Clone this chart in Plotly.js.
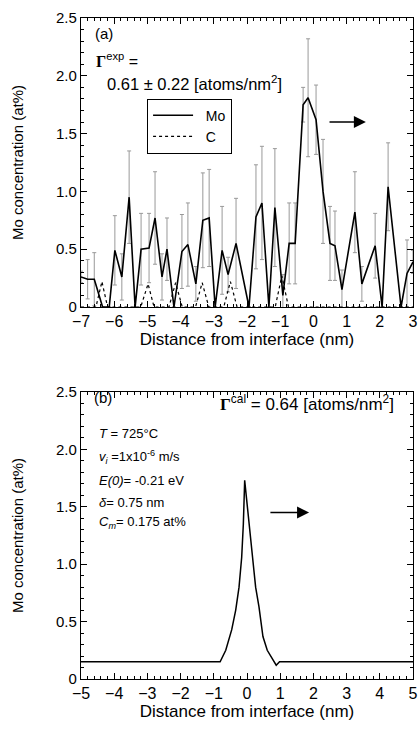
<!DOCTYPE html>
<html><head><meta charset="utf-8">
<script src="https://cdn.plot.ly/plotly-3.0.1.min.js"></script>
<style>html,body{margin:0;padding:0;background:#fff;}#chart{width:419px;height:729px;}</style>
</head><body><div id="chart"></div>
<script>
// Panel (a): measured Mo profile
const moX = [-7.0,-6.8,-6.6,-6.35,-6.15,-5.98,-5.77,-5.55,-5.37,-5.19,-4.95,-4.77,-4.56,-4.41,-4.2,-3.96,-3.78,-3.54,-3.33,-3.14,-2.96,-2.75,-2.57,-2.33,-1.94,-1.73,-1.55,-1.34,-1.16,-0.92,-0.73,-0.55,-0.31,-0.16,0.08,0.29,0.5,0.65,0.86,1.25,1.46,1.86,2.07,2.25,2.64,2.82,3.0];
const moY = [0.26,0.24,0.24,0.0,0.0,0.49,0.26,0.95,0.0,0.5,0.51,0.77,0.26,0.5,0.0,0.48,0.54,0.2,0.75,0.77,0.0,0.49,0.28,0.55,0.0,0.78,0.9,0.0,0.86,0.1,0.55,0.55,1.75,1.81,1.62,1.0,0.55,0.53,0.15,0.82,0.2,0.53,0.0,1.04,0.0,0.29,0.39];
const moErr = [0.05,0.17,0.23,0,0,0.3,0.2,0.4,0,0.31,0.3,0.4,0.2,0.27,0,0.32,0.36,0.15,0.41,0.42,0,0.38,0.15,0.39,0,0.45,0.49,0,0.51,0.18,0.35,0.35,0.15,0.51,0.3,0.45,0.32,0.3,0.17,0.35,0.15,0.28,0,0.38,0,0.29,0.1];
// Panel (a): C profile
const cX = [-7.0,-6.55,-6.37,-6.2,-5.2,-4.98,-4.8,-4.35,-4.15,-3.95,-3.55,-3.35,-3.15,-2.7,-2.5,-2.3,-1.15,-0.95,-0.75,3.0];
const cY = [0,0,0.22,0,0,0.2,0,0,0.21,0,0,0.21,0,0,0.22,0,0,0.27,0,0];
// Panel (b): calculated profile
const calX = [-5,-0.81,-0.64,-0.46,-0.34,-0.24,-0.16,-0.11,-0.07,0.01,0.08,0.16,0.26,0.36,0.48,0.61,0.76,0.88,0.98,5];
const calY = [0.15,0.15,0.25,0.43,0.6,0.8,1.06,1.35,1.73,1.5,1.27,1.06,0.8,0.63,0.37,0.25,0.18,0.12,0.15,0.15];
const yTickVals = [0,0.5,1,1.5,2,2.5];
const yTickText = ['0','0.5','1.0','1.5','2.0','2.5'];

const F = 'Liberation Sans, Arial, sans-serif';
const NB = '\u00a0\u00a0';
const traces = [
  {x: moX, y: moY, type:'scatter', mode:'lines', name:NB+'Mo', xaxis:'x', yaxis:'y',
   line:{color:'#000', width:1.6},
   error_y:{type:'data', array:moErr, visible:true, color:'#999999', thickness:1, width:2}},
  {x: cX, y: cY, type:'scatter', mode:'lines', name:NB+'C', xaxis:'x', yaxis:'y',
   line:{color:'#000', width:1.2, dash:'dot'}},
  {x: calX, y: calY, type:'scatter', mode:'lines', name:'calc', xaxis:'x2', yaxis:'y2', showlegend:false,
   line:{color:'#000', width:1.5}}
];
function xa(range, anchor){
  return {range:range, domain:[0,1], anchor:anchor, dtick:1, ticks:'inside', ticklen:6, tickcolor:'#000',
    showline:true, linecolor:'#000', linewidth:1.2, mirror:'ticks', showgrid:false, zeroline:false,
    tickfont:{family:F, size:16, color:'#000'},
    minor:{ticks:'inside', dtick:0.2, ticklen:3, tickcolor:'#000', showgrid:false},
    title:{text:'Distance from interface (nm)', font:{family:F, size:17, color:'#000'}, standoff:1}};
}
function ya(domain, anchor){
  return {range:[0,2.5], domain:domain, anchor:anchor, tickvals:yTickVals, ticktext:yTickText,
    ticks:'inside', ticklen:6, tickcolor:'#000', showline:true, linecolor:'#000', linewidth:1.2, mirror:'ticks',
    showgrid:false, zeroline:false, tickfont:{family:F, size:15, color:'#000'},
    minor:{ticks:'inside', dtick:0.1, ticklen:3, tickcolor:'#000', showgrid:false},
    title:{text:'Mo concentration (at%)', font:{family:F, size:15, color:'#000'}, standoff:28}};
}
const ann = (x,y,text,xref,yref,size,extra) => Object.assign({x:x, y:y, xref:xref, yref:yref, text:text,
  showarrow:false, xanchor:'left', yanchor:'middle', font:{family:F, size:size, color:'#000'}}, extra||{});
const G = '<span style="font-family:Liberation Serif, Times New Roman, serif"><b>Γ</b></span>';
const layout = {
  width:419, height:729, margin:{l:81, r:6, t:18, b:50},
  paper_bgcolor:'#fff', plot_bgcolor:'#fff', showlegend:true,
  legend:{x:0.199, y:0.878, xref:'paper', yref:'paper', xanchor:'left', yanchor:'top',
    bordercolor:'#000', borderwidth:1, bgcolor:'#fff', font:{family:F, size:14, color:'#000'},
    itemwidth:40, tracegroupgap:0},
  xaxis: xa([-7,3],'y'),
  yaxis: ya([0.5628,1],'x'),
  xaxis2: xa([-5,5],'y2'),
  yaxis2: ya([0,0.4342],'x2'),
  annotations:[
    ann(-6.64,2.37,'(a)','x','y',15),
    ann(-6.6,2.14,G+'<sup>exp</sup> =','x','y',16),
    ann(-6.28,1.94,'0.61 ± 0.22 [atoms/nm<sup>2</sup>]','x','y',16.5),
    {x:1.58, y:1.6, ax:0.44, ay:1.6, xref:'x', yref:'y', axref:'x', ayref:'y', text:'', showarrow:true,
     arrowhead:2, arrowsize:1.6, arrowwidth:1.5, arrowcolor:'#000'},
    ann(-4.67,2.45,'(b)','x2','y2',15),
    ann(4.49,2.4,G+'<sup>cal</sup> = 0.64 [atoms/nm<sup>2</sup>]','x2','y2',17,{xanchor:'right'}),
    ann(-4.52,2.14,'<i>T</i> = 725°C','x2','y2',13),
    ann(-4.52,1.93,'<i>v<sub>i</sub></i> =1x10<sup>-6</sup> m/s','x2','y2',13),
    ann(-4.52,1.73,'<i>E(0)</i>= -0.21 eV','x2','y2',13),
    ann(-4.52,1.54,'<i>δ</i>= 0.75 nm','x2','y2',13),
    ann(-4.52,1.36,'<i>C<sub>m</sub></i>= 0.175 at%','x2','y2',13),
    {x:1.87, y:1.45, ax:0.66, ay:1.45, xref:'x2', yref:'y2', axref:'x2', ayref:'y2', text:'', showarrow:true,
     arrowhead:2, arrowsize:1.6, arrowwidth:1.5, arrowcolor:'#000'}
  ]
};
Plotly.newPlot('chart', traces, layout, {staticPlot:true, displayModeBar:false});
</script></body></html>
